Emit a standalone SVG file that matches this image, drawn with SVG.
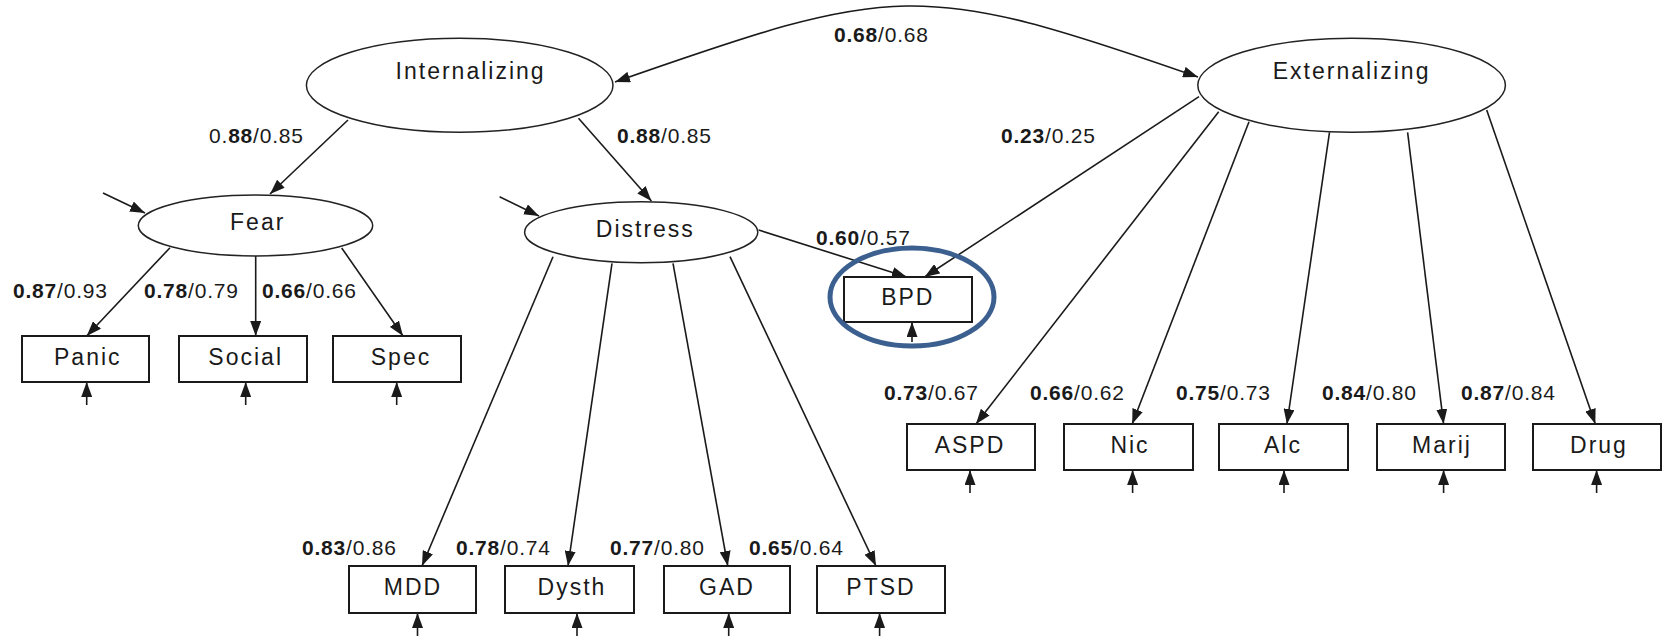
<svg xmlns="http://www.w3.org/2000/svg" width="1664" height="636" viewBox="0 0 1664 636">
  <defs>
    <marker id="arrow" markerUnits="userSpaceOnUse" markerWidth="16" markerHeight="11" refX="15" refY="5.5" orient="auto-start-reverse">
      <path d="M0,0 L15,5.5 L0,11 z" fill="#1a1a1a"/>
    </marker>
    <style>
      .latent { fill: #fff; stroke: #222; stroke-width: 1.5; }
      .obs { fill: #fff; stroke: #1a1a1a; stroke-width: 2; }
      .name { font-family: "Liberation Sans", Arial, sans-serif; font-size: 23px; letter-spacing: 2px; fill: #1a1a1a; text-anchor: middle; }
      .coef { font-family: "Liberation Sans", Arial, sans-serif; font-size: 21px; letter-spacing: 0.8px; fill: #1a1a1a; }
      .coef .b { font-weight: bold; }
      .edge { stroke: #1a1a1a; stroke-width: 1.6; fill: none; marker-end: url(#arrow); }
      .highlight { fill: none; stroke: #3b5f8f; stroke-width: 5; }
    </style>
  </defs>
  <rect width="1664" height="636" fill="#fff"/>

  <!-- connectors -->
  <g id="connectors">
    <path class="edge" d="M615,82 C895,-16 918,-21 1198,77" marker-start="url(#arrow)"/>
    <line class="edge" x1="348" y1="120" x2="270" y2="194"/>
    <line class="edge" x1="578.5" y1="118.3" x2="651.4" y2="201"/>
    <line class="edge" x1="103" y1="193" x2="145" y2="213"/>
    <line class="edge" x1="499.6" y1="196.7" x2="539" y2="216"/>
    <!-- Fear indicators -->
    <line class="edge" x1="170" y1="247.7" x2="86.7" y2="336"/>
    <line class="edge" x1="255.7" y1="256" x2="255.7" y2="336"/>
    <line class="edge" x1="341.7" y1="248" x2="403" y2="336"/>
    <!-- Distress indicators -->
    <line class="edge" x1="553" y1="256.7" x2="422" y2="566"/>
    <line class="edge" x1="612" y1="263.3" x2="568" y2="566"/>
    <line class="edge" x1="673" y1="263.3" x2="727.8" y2="566"/>
    <line class="edge" x1="730" y1="256.7" x2="876" y2="566"/>
    <line class="edge" x1="758.6" y1="230" x2="906.8" y2="277"/>
    <!-- Externalizing indicators -->
    <line class="edge" x1="1199" y1="96.7" x2="924.6" y2="277"/>
    <line class="edge" x1="1218.7" y1="111.7" x2="976" y2="424"/>
    <line class="edge" x1="1249" y1="121.7" x2="1132.2" y2="424"/>
    <line class="edge" x1="1329.5" y1="132.3" x2="1286.9" y2="424"/>
    <line class="edge" x1="1407.6" y1="132.3" x2="1443.6" y2="424"/>
    <line class="edge" x1="1486.7" y1="110" x2="1595.3" y2="424"/>
    <!-- residual arrows -->
    <line class="edge" x1="86.7" y1="405" x2="86.7" y2="382"/>
    <line class="edge" x1="245.7" y1="405" x2="245.7" y2="382"/>
    <line class="edge" x1="396.7" y1="405" x2="396.7" y2="382"/>
    <line class="edge" x1="912" y1="342" x2="912" y2="322"/>
    <line class="edge" x1="970" y1="493" x2="970" y2="470"/>
    <line class="edge" x1="1132.6" y1="493" x2="1132.6" y2="470"/>
    <line class="edge" x1="1284" y1="493" x2="1284" y2="470"/>
    <line class="edge" x1="1443.6" y1="493" x2="1443.6" y2="470"/>
    <line class="edge" x1="1596.6" y1="493" x2="1596.6" y2="470"/>
    <line class="edge" x1="417.5" y1="640" x2="417.5" y2="613"/>
    <line class="edge" x1="577" y1="640" x2="577" y2="613"/>
    <line class="edge" x1="728.7" y1="640" x2="728.7" y2="613"/>
    <line class="edge" x1="879.6" y1="640" x2="879.6" y2="613"/>
  </g>

  <!-- path coefficients -->
  <g id="coefficients" class="coef">
    <text x="834" y="42"><tspan class="b">0.68</tspan>/0.68</text>
    <text x="209" y="143">0.<tspan class="b">88</tspan>/0.85</text>
    <text x="617" y="143"><tspan class="b">0.88</tspan>/0.85</text>
    <text x="1001" y="143"><tspan class="b">0.23</tspan>/0.25</text>
    <text x="816" y="245"><tspan class="b">0.60</tspan>/0.57</text>
    <text x="13" y="298"><tspan class="b">0.87</tspan>/0.93</text>
    <text x="144" y="298"><tspan class="b">0.78</tspan>/0.79</text>
    <text x="262" y="298"><tspan class="b">0.66</tspan>/0.66</text>
    <text x="884" y="400"><tspan class="b">0.73</tspan>/0.67</text>
    <text x="1030" y="400"><tspan class="b">0.66</tspan>/0.62</text>
    <text x="1176" y="400"><tspan class="b">0.75</tspan>/0.73</text>
    <text x="1322" y="400"><tspan class="b">0.84</tspan>/0.80</text>
    <text x="1461" y="400"><tspan class="b">0.87</tspan>/0.84</text>
    <text x="302" y="555"><tspan class="b">0.83</tspan>/0.86</text>
    <text x="456" y="555"><tspan class="b">0.78</tspan>/0.74</text>
    <text x="610" y="555"><tspan class="b">0.77</tspan>/0.80</text>
    <text x="749" y="555"><tspan class="b">0.65</tspan>/0.64</text>
  </g>

  <!-- latent factors -->
  <g id="internalizing">
    <ellipse class="latent" cx="459.7" cy="85.3" rx="153.3" ry="47"/>
    <text class="name" x="470.6" y="79">Internalizing</text>
  </g>
  <g id="externalizing">
    <ellipse class="latent" cx="1351.6" cy="85.3" rx="153.8" ry="47"/>
    <text class="name" x="1351.6" y="79">Externalizing</text>
  </g>
  <g id="fear">
    <ellipse class="latent" cx="255.5" cy="225.5" rx="117.2" ry="30.5"/>
    <text class="name" x="257.7" y="230">Fear</text>
  </g>
  <g id="distress">
    <ellipse class="latent" cx="641.2" cy="232.2" rx="116.6" ry="30.5"/>
    <text class="name" x="645.3" y="237.3">Distress</text>
  </g>

  <!-- observed indicators -->
  <g id="panic">
    <rect class="obs" x="22" y="336" width="127" height="46"/>
    <text class="name" x="87.8" y="365">Panic</text>
  </g>
  <g id="social">
    <rect class="obs" x="179" y="336" width="128" height="46"/>
    <text class="name" x="245.7" y="365">Social</text>
  </g>
  <g id="spec">
    <rect class="obs" x="333" y="336" width="128" height="46"/>
    <text class="name" x="401" y="365">Spec</text>
  </g>
  <g id="bpd">
    <rect class="obs" x="844" y="277" width="128" height="45"/>
    <text class="name" x="907.8" y="305">BPD</text>
    <ellipse class="highlight" cx="912" cy="297" rx="82" ry="49"/>
  </g>
  <g id="aspd">
    <rect class="obs" x="907" y="424" width="128" height="46"/>
    <text class="name" x="970" y="453">ASPD</text>
  </g>
  <g id="nic">
    <rect class="obs" x="1064" y="424" width="129" height="46"/>
    <text class="name" x="1130" y="453">Nic</text>
  </g>
  <g id="alc">
    <rect class="obs" x="1219" y="424" width="129" height="46"/>
    <text class="name" x="1283" y="453">Alc</text>
  </g>
  <g id="marij">
    <rect class="obs" x="1377" y="424" width="128" height="46"/>
    <text class="name" x="1442" y="453">Marij</text>
  </g>
  <g id="drug">
    <rect class="obs" x="1533" y="424" width="128" height="46"/>
    <text class="name" x="1599" y="453">Drug</text>
  </g>
  <g id="mdd">
    <rect class="obs" x="349" y="566" width="127" height="47"/>
    <text class="name" x="413" y="595">MDD</text>
  </g>
  <g id="dysth">
    <rect class="obs" x="505" y="566" width="129" height="47"/>
    <text class="name" x="572" y="595">Dysth</text>
  </g>
  <g id="gad">
    <rect class="obs" x="664" y="566" width="126" height="47"/>
    <text class="name" x="727" y="595">GAD</text>
  </g>
  <g id="ptsd">
    <rect class="obs" x="817" y="566" width="128" height="47"/>
    <text class="name" x="881" y="595">PTSD</text>
  </g>
</svg>
